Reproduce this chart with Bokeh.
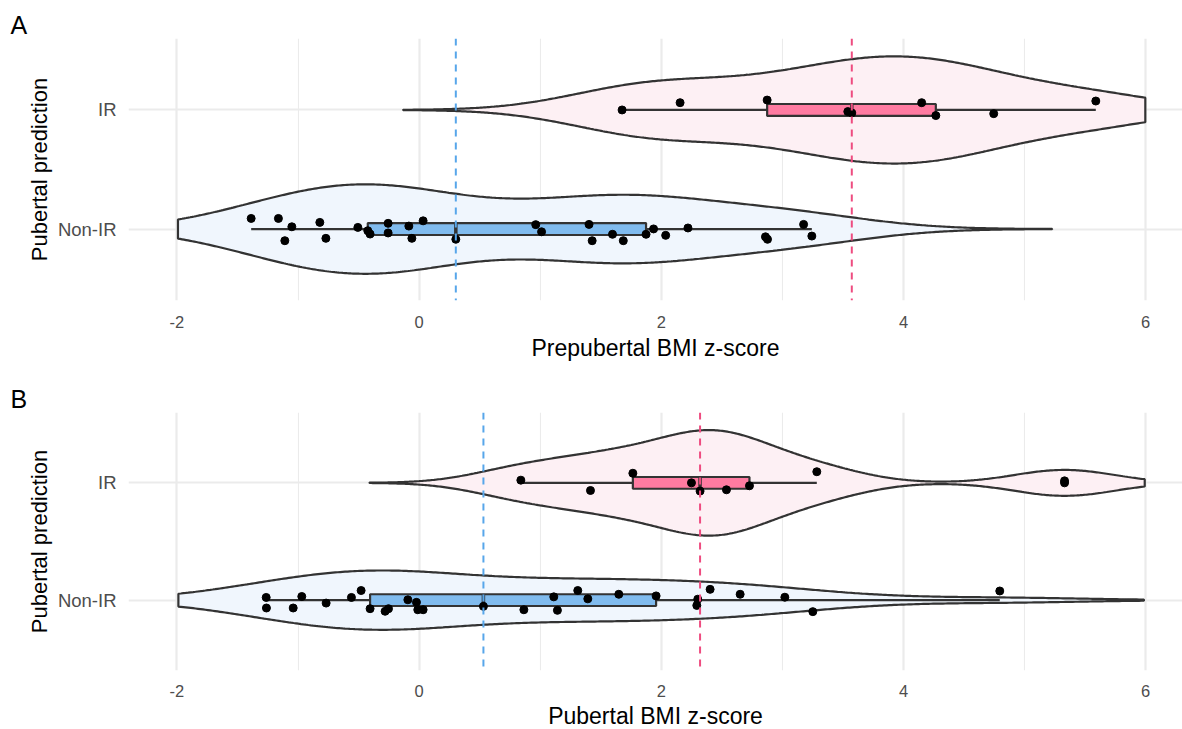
import numpy as np
from bokeh.plotting import figure
from bokeh.models import FixedTicker, Span, Title
from bokeh.layouts import column
from bokeh.embed import file_html
from bokeh.resources import INLINE

# ---------------- data ----------------
categories = ["Non-IR", "IR"]            # y = 1, 2
x_ticks = [-2, 0, 2, 4, 6]
x_tick_labels = ["-2", "0", "2", "4", "6"]
x_minor_ticks = [-1, 1, 3, 5]
y_title = "Pubertal prediction"

# Panel A: prepubertal BMI z-score
a_title = "Prepubertal BMI z-score"
a_nonir = [-1.387, -1.162, -1.109, -1.051, -0.82, -0.77, -0.506, -0.424, -0.405,
           -0.256, -0.256, -0.085, -0.06, 0.033, 0.303, 0.963, 1.011, 1.403, 1.429,
           1.597, 1.686, 1.874, 1.936, 2.036, 2.22, 2.86, 2.877, 3.175, 3.243]
a_nonir_jitter = [0.089, 0.089, -0.098, 0.019, 0.056, -0.078, 0.014, -0.014, -0.042,
                  0.048, -0.033, 0.025, -0.078, 0.069, -0.086, 0.037, -0.023, 0.039, -0.098,
                  -0.044, -0.098, -0.044, 0.001, -0.053, 0.009, -0.065, -0.086, 0.039, -0.059]
a_ir = [1.676, 2.155, 2.874, 3.54, 3.573, 4.15, 4.267, 4.745, 5.588]
a_ir_jitter = [0.0, 0.061, 0.083, -0.014, -0.025, 0.061, -0.047, -0.031, 0.075]

# Panel B: pubertal BMI z-score
b_title = "Pubertal BMI z-score"
b_nonir = [-1.263, -1.261, -1.04, -0.969, -0.768, -0.559, -0.479, -0.405, -0.281,
           -0.253, -0.093, -0.022, -0.011, 0.033, 0.531, 0.865, 1.112, 1.142, 1.31,
           1.393, 1.649, 1.957, 2.293, 2.301, 2.403, 2.651, 3.02, 3.251, 4.795]
b_nonir_jitter = [0.023, -0.067, -0.067, 0.031, -0.025, 0.023, 0.082, -0.073, -0.095,
                  -0.073, 0.003, -0.019, -0.082, -0.082, -0.053, -0.082, 0.028, -0.087, 0.082,
                  0.011, 0.05, 0.036, -0.045, 0.008, 0.092, 0.05, 0.025, -0.098, 0.078]
b_ir = [0.84, 1.415, 1.765, 2.249, 2.32, 2.538, 2.728, 3.284, 5.33]
b_ir_jitter = [0.023, -0.065, 0.082, 0.0, -0.07, -0.059, -0.025, 0.095, 0.017]

# ---------------- styles ----------------
box_fill = {"Non-IR": "#80BBEE", "IR": "#FF7BA1"}
violin_fill = {"Non-IR": "#F0F6FD", "IR": "#FDF0F4"}
median_line = {"Non-IR": "#57A6EA", "IR": "#EE4C80"}
DARK = "#333333"
FONT = "Liberation Sans"
X_LIMITS = (-2, 6)


def kde(vals, lo, hi, n=512):
    v = np.asarray(vals, dtype=float)
    sd = v.std(ddof=1)
    q1, q3 = np.percentile(v, [25, 75])
    bw = 0.9 * min(sd, (q3 - q1) / 1.34) * len(v) ** -0.2
    grid = np.linspace(v.min() - 3 * bw, v.max() + 3 * bw, n)
    grid = grid[(grid >= lo) & (grid <= hi)]
    dens = np.exp(-0.5 * ((grid[:, None] - v[None, :]) / bw) ** 2).sum(1) / (len(v) * bw * np.sqrt(2 * np.pi))
    return grid, dens


def make_panel(groups, title, tag, height, top, bottom, tick_standoff, title_standoff):
    p = figure(width=1182, height=height, output_backend="svg", toolbar_location=None,
               x_range=(-2.4, 6.304), y_range=(0.4, 2.6),
               min_border_left=128, min_border_right=0,
               min_border_top=top, min_border_bottom=bottom)
    p.outline_line_color = None
    p.background_fill_color = "white"
    p.border_fill_color = "white"

    # panel tag
    p.title.text = tag
    p.title.align = "left"
    p.title.offset = -118
    p.title.standoff = 0
    p.title.text_font = FONT
    p.title.text_font_size = "25px"
    p.title.text_font_style = "normal"
    p.title.text_color = "black"

    # grids
    xt = FixedTicker(ticks=x_ticks, minor_ticks=x_minor_ticks)
    yt = FixedTicker(ticks=[1, 2])
    p.xaxis.ticker = xt
    p.yaxis.ticker = yt
    p.xgrid.ticker = xt
    p.ygrid.ticker = yt
    for g in (p.xgrid, p.ygrid):
        g.grid_line_color = "#EBEBEB"
        g.grid_line_width = 2.2
    p.xgrid.minor_grid_line_color = "#EBEBEB"
    p.xgrid.minor_grid_line_width = 1.1

    # axes
    for ax in (p.xaxis, p.yaxis):
        ax.axis_line_color = None
        ax.major_tick_line_color = None
        ax.minor_tick_line_color = None
        ax.major_label_text_font = FONT
        ax.major_label_text_color = "#4D4D4D"
    p.xaxis.major_label_overrides = {t: l for t, l in zip(x_ticks, x_tick_labels)}
    p.xaxis.major_label_text_font_size = "16.5px"
    p.xaxis.major_label_standoff = tick_standoff
    p.yaxis.major_label_overrides = {i + 1: c for i, c in enumerate(categories)}
    p.yaxis.major_label_text_font_size = "18.5px"
    p.yaxis.major_label_standoff = 6
    p.yaxis.axis_label = y_title
    p.yaxis.axis_label_text_font = FONT
    p.yaxis.axis_label_text_font_size = "22px"
    p.yaxis.axis_label_text_font_style = "normal"
    p.yaxis.axis_label_text_color = "black"
    p.yaxis.axis_label_standoff = 3

    # x axis title, centred on the whole panel
    p.add_layout(Title(text=title, align="center", offset=5.6, standoff=title_standoff,
                       text_font=FONT, text_font_size="23px", text_font_style="normal",
                       text_color="black"), "below")

    # violins (area-scaled, width 0.9)
    dens_all = {}
    for name, (vals, jit) in groups.items():
        dens_all[name] = kde(vals, *X_LIMITS)
    dmax = max(d.max() for _, d in dens_all.values())
    for name, (grid, dens) in dens_all.items():
        c = categories.index(name) + 1
        half = 0.45 * dens / dmax
        xs = np.concatenate([grid, grid[::-1]])
        ys = np.concatenate([c + half, (c - half)[::-1]])
        p.patch(xs, ys, fill_color=violin_fill[name], line_color=DARK, line_width=2.2)

    # median reference lines
    for name, (vals, jit) in groups.items():
        p.add_layout(Span(location=float(np.median(vals)), dimension="height",
                          line_color=median_line[name], line_width=2, line_dash="7 6"))

    # boxplots
    for name, (vals, jit) in groups.items():
        c = categories.index(name) + 1
        v = np.asarray(vals)
        q1, med, q3 = np.percentile(v, [25, 50, 75])
        iqr = q3 - q1
        inside = v[(v >= q1 - 1.5 * iqr) & (v <= q3 + 1.5 * iqr)]
        lw, uw = inside.min(), inside.max()
        out = v[(v < q1 - 1.5 * iqr) | (v > q3 + 1.5 * iqr)]
        p.segment(x0=[lw, q3], x1=[q1, uw], y0=[c, c], y1=[c, c], line_color=DARK, line_width=2.2)
        p.hbar(y=[c], left=[q1], right=[q3], height=0.1, fill_color=box_fill[name],
               line_color=DARK, line_width=2.2)
        p.segment(x0=[med], x1=[med], y0=[c - 0.05], y1=[c + 0.05], line_color=DARK, line_width=3.5)
        if len(out):
            p.scatter(out, [c] * len(out), size=8, color="black")

    # jittered points
    for name, (vals, jit) in groups.items():
        c = categories.index(name) + 1
        p.scatter(vals, [c + j for j in jit], size=8, color="black")
    return p


pa = make_panel({"Non-IR": (a_nonir, a_nonir_jitter), "IR": (a_ir, a_ir_jitter)},
                a_title, "A", height=380, top=38, bottom=80, tick_standoff=9, title_standoff=5)
pb = make_panel({"Non-IR": (b_nonir, b_nonir_jitter), "IR": (b_ir, b_ir_jitter)},
                b_title, "B", height=349, top=32, bottom=55, tick_standoff=8, title_standoff=2)

layout = column(pa, pb)
open("out.html", "w").write(file_html(layout, INLINE))
